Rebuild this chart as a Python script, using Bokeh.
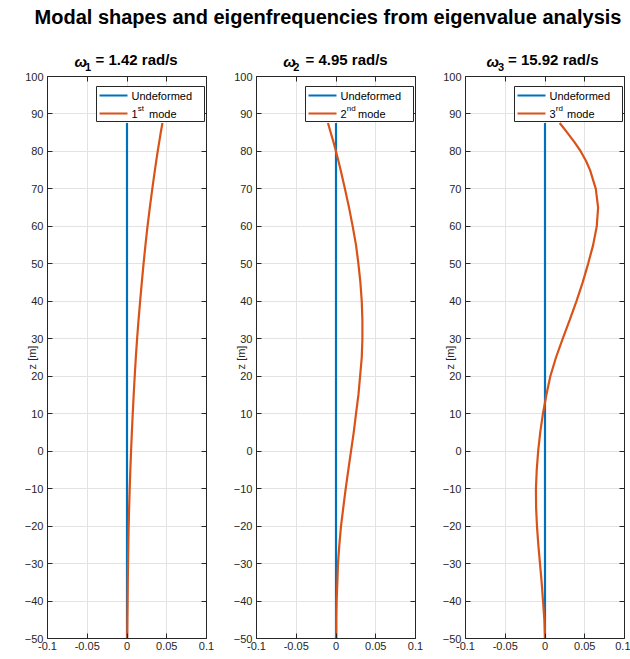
import math
from bokeh.plotting import figure
from bokeh.layouts import column, row
from bokeh.models import Range1d, FixedTicker, LinearAxis, Label, BoxAnnotation, Arrow
from bokeh.embed import file_html
from bokeh.resources import INLINE

# ---------------- data ----------------
z = [-50, -45, -40, -35, -30, -25, -20, -15, -10, -5, 0, 5, 10, 15, 20, 25,
     30, 35, 40, 45, 50, 55, 60, 65, 70, 75, 77.5, 80, 82.5, 85, 87.6]
undeformed = [0.0] * len(z)
mode1 = [0.0003, 0.0005, 0.0008, 0.0010, 0.0013, 0.0017, 0.0021, 0.0027, 0.0034,
         0.0042, 0.0051, 0.0061, 0.0072, 0.0084, 0.0097, 0.0111, 0.0127, 0.0145,
         0.0165, 0.0186, 0.0208, 0.0232, 0.0258, 0.0287, 0.0318, 0.0351, 0.0368,
         0.0386, 0.0405, 0.0424, 0.0446]
mode2 = [0.0004, 0.0004, 0.0008, 0.0017, 0.0025, 0.0042, 0.0063, 0.0092, 0.0122,
         0.0155, 0.0189, 0.0223, 0.0252, 0.0282, 0.0303, 0.0324, 0.0332, 0.0332,
         0.0324, 0.0307, 0.0282, 0.0252, 0.0210, 0.0164, 0.0113, 0.0059, 0.0030,
         0.0, -0.0032, -0.0066, -0.0101]
mode3 = [0.0, -0.0008, -0.0025, -0.0042, -0.0063, -0.0084, -0.0101, -0.0112, -0.0114,
         -0.0104, -0.0086, -0.0060, -0.0026, 0.0017, 0.0067, 0.0138, 0.0222, 0.0310,
         0.0395, 0.0473, 0.0542, 0.0605, 0.0651, 0.0668, 0.0639, 0.0567, 0.0515,
         0.0450, 0.0370, 0.0280, 0.0185]
modes = [mode1, mode2, mode3]
omegas = ["1.42", "4.95", "15.92"]
mode_numbers = ["1", "2", "3"]
mode_suffixes = ["st", "nd", "rd"]
x_ticks = [-0.1, -0.05, 0.0, 0.05, 0.1]
x_tick_labels = ["-0.1", "-0.05", "0", "0.05", "0.1"]
z_ticks = [-50, -40, -30, -20, -10, 0, 10, 20, 30, 40, 50, 60, 70, 80, 90, 100]
main_title = "Modal shapes and eigenfrequencies from eigenvalue analysis"
legend_first = "Undeformed"
legend_mode_word = "mode"
y_label = "z [m]"

# ---------------- style / layout ----------------
FONT = "Liberation Sans"
AX = "#262626"
GRID = "#e3e3e3"
BLUE = "#0072BD"
ORANGE = "#D95319"
PAGE_W = 630
HEADER_H = 72
FRAME_W, FRAME_H = 159, 562
TOP, BOTTOM = 4, 20
LEFTS = [47, 26, 26]
RIGHTS = [24, 24, 6]
XMIN, XMAX, ZMIN, ZMAX = -0.1, 0.1, -50, 100
# frame centres in page px, and title offsets (omega, subscript, rest)
FRAME_CENTRES = [126.5, 335.5, 544.5]
TITLE_OFFS = [(-52.5, -42, -31.5), (-52.8, -42.8, -30.5), (-58.5, -47, -37)]


def xd(off):
    return XMIN + off * (XMAX - XMIN) / FRAME_W


def zd(off):
    return ZMAX - off * (ZMAX - ZMIN) / FRAME_H


# ---------------- header (main title + subplot titles) ----------------
header = figure(width=PAGE_W, height=HEADER_H, x_range=Range1d(0, PAGE_W),
                y_range=Range1d(HEADER_H, 0), x_axis_type=None, y_axis_type=None,
                toolbar_location=None, output_backend="svg", min_border=0)
header.outline_line_color = None
header.grid.visible = False
header.add_layout(Label(x=327.5, y=16, text=main_title, text_font=FONT,
                        text_font_size="20px", text_font_style="bold", text_color="black",
                        text_align="center", text_baseline="middle"))
for i in range(3):
    c = FRAME_CENTRES[i]
    o_om, o_sub, o_rest = TITLE_OFFS[i]
    header.add_layout(Label(x=c + o_om, y=60.5, text="ω", text_font=FONT,
                            text_font_size="15px", text_font_style="bold italic",
                            text_color="black", text_align="left", text_baseline="middle"))
    header.add_layout(Label(x=c + o_sub, y=66.5, text=mode_numbers[i], text_font=FONT,
                            text_font_size="11px", text_font_style="bold",
                            text_color="black", text_align="left", text_baseline="middle"))
    header.add_layout(Label(x=c + o_rest, y=58.5, text="= " + omegas[i] + " rad/s",
                            text_font=FONT, text_font_size="15px", text_font_style="bold",
                            text_color="black", text_align="left", text_baseline="middle"))

panels = []
for i in range(3):
    p = figure(width=LEFTS[i] + FRAME_W + RIGHTS[i], height=TOP + FRAME_H + BOTTOM,
               x_range=Range1d(XMIN, XMAX), y_range=Range1d(ZMIN, ZMAX),
               toolbar_location=None, output_backend="svg",
               min_border_left=LEFTS[i], min_border_right=RIGHTS[i],
               min_border_top=TOP, min_border_bottom=BOTTOM)
    p.outline_line_color = None

    # axes
    p.xaxis.ticker = FixedTicker(ticks=x_ticks)
    p.xaxis.major_label_overrides = {float(t): s for t, s in zip(x_ticks, x_tick_labels)}
    p.yaxis.ticker = FixedTicker(ticks=z_ticks)
    for ax in (p.xaxis[0], p.yaxis[0]):
        ax.major_tick_in = 5
        ax.major_tick_out = 0
        ax.minor_tick_line_color = None
        ax.axis_line_color = AX
        ax.major_tick_line_color = AX
        ax.major_label_text_color = AX
        ax.major_label_text_font = FONT
        ax.major_label_text_font_size = "11px"
    p.xaxis.major_label_standoff = 3
    p.yaxis.major_label_standoff = 4
    p.yaxis.axis_label = y_label
    p.yaxis.axis_label_text_font = FONT
    p.yaxis.axis_label_text_font_size = "11px"
    p.yaxis.axis_label_text_font_style = "normal"
    p.yaxis.axis_label_text_color = AX
    p.yaxis.axis_label_standoff = -16

    right = LinearAxis(ticker=FixedTicker(ticks=z_ticks), major_label_text_font_size="0px",
                       major_label_standoff=0, major_tick_in=5, major_tick_out=0,
                       minor_tick_line_color=None, axis_line_color=AX,
                       major_tick_line_color=AX, major_label_text_color=None)
    top = LinearAxis(ticker=FixedTicker(ticks=x_ticks), major_label_text_font_size="0px",
                     major_label_standoff=0, major_tick_in=5, major_tick_out=0,
                     minor_tick_line_color=None, axis_line_color=AX,
                     major_tick_line_color=AX, major_label_text_color=None)
    p.add_layout(right, "right")
    p.add_layout(top, "above")
    p.xgrid.ticker = FixedTicker(ticks=x_ticks)
    p.ygrid.ticker = FixedTicker(ticks=z_ticks)
    p.grid.grid_line_color = GRID

    # data lines
    p.line(undeformed, z, line_color=BLUE, line_width=2.2)
    p.line(modes[i], z, line_color=ORANGE, line_width=2.2)

    # legend (drawn by hand to allow superscripts)
    p.add_layout(BoxAnnotation(left=xd(49), right=xd(FRAME_W - 2), top=zd(10), bottom=zd(45),
                               fill_color="white", fill_alpha=1.0, line_color=AX,
                               line_width=1, line_alpha=1.0))
    p.add_layout(Arrow(x_start=xd(52), y_start=zd(19), x_end=xd(80), y_end=zd(19),
                       start=None, end=None, line_color=BLUE, line_width=2.2))
    p.add_layout(Arrow(x_start=xd(52), y_start=zd(37), x_end=xd(80), y_end=zd(37),
                       start=None, end=None, line_color=ORANGE, line_width=2.2))
    p.add_layout(Label(x=xd(84), y=zd(19), text=legend_first, text_font=FONT,
                       text_font_size="11px", text_color="black",
                       text_align="left", text_baseline="middle"))
    p.add_layout(Label(x=xd(84), y=zd(37), text=mode_numbers[i], text_font=FONT,
                       text_font_size="11px", text_color="black",
                       text_align="left", text_baseline="middle"))
    p.add_layout(Label(x=xd(90.3), y=zd(32), text=mode_suffixes[i], text_font=FONT,
                       text_font_size="8px", text_color="black",
                       text_align="left", text_baseline="middle"))
    p.add_layout(Label(x=xd(101.5), y=zd(37), text=legend_mode_word, text_font=FONT,
                       text_font_size="11px", text_color="black",
                       text_align="left", text_baseline="middle"))
    panels.append(p)

layout = column(header, row(*panels))
open("out.html", "w").write(file_html(layout, INLINE))
